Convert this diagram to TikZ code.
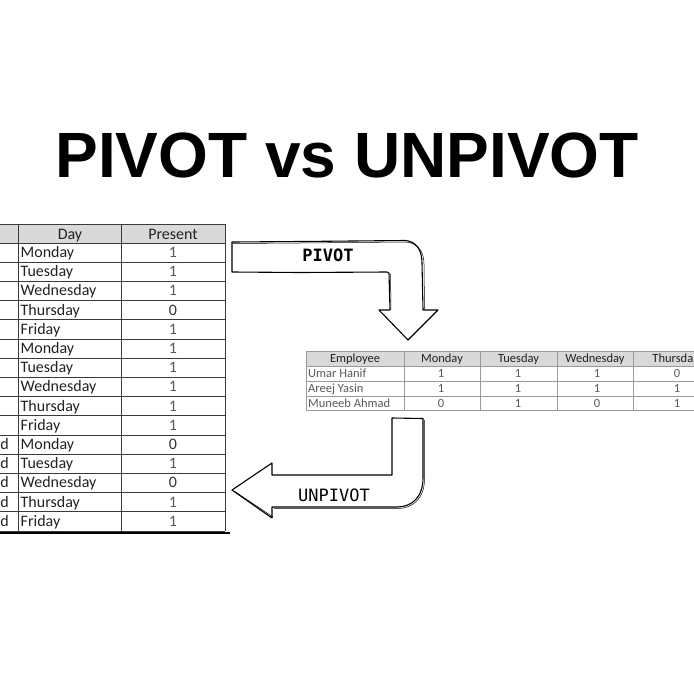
\documentclass[tikz,border=0pt]{standalone}
\usepackage{fontspec}
\setmainfont{Liberation Sans}
\newfontfamily\cellfont{Carlito}
\newfontfamily\arrowfont{DejaVu Sans Mono}
\definecolor{hdrfill}{HTML}{D9D9D9}
\definecolor{gridA}{HTML}{3A3A3A}
\definecolor{gridB}{HTML}{9A9A9A}
\definecolor{txtA}{HTML}{222222}
\definecolor{txtOne}{HTML}{5A5A5A}
\definecolor{txtZero}{HTML}{333333}
\tikzset{
  bigcell/.style={inner sep=0pt, font=\cellfont\fontsize{16}{18}\selectfont, text=txtA},
  smallcell/.style={inner sep=0pt, font=\cellfont\fontsize{12.5}{15}\selectfont, text=txtA},
  gridleft/.style={draw=gridA, line width=0.8pt},
  gridright/.style={draw=gridB, line width=0.6pt},
  sketch/.style={draw=black, line width=1.1pt, line join=round},
  sketchb/.style={draw=black, line width=0.5pt, line join=round},
  arrowlabel/.style={inner sep=0pt, font=\arrowfont\fontsize{17}{19}\selectfont, text=black}
}
\begin{document}
\begin{tikzpicture}[x=1pt,y=-1pt]
\useasboundingbox (0,0) rectangle (694,694);
\clip (0,0) rectangle (694,694);
\fill[white] (0,0) rectangle (694,694);

% Title
\node[anchor=base, inner sep=0pt, font=\bfseries\fontsize{64}{70}\selectfont] (title) at (347,177) {PIVOT vs UNPIVOT};

% ---------- Left (long) table ----------
\fill[hdrfill] (0,224) rectangle (225,243);
\foreach \k in {0,...,15} {
  \draw[gridleft] (0,{243+19.2*\k}) -- (225,{243+19.2*\k});
}
\draw[gridleft] (0,224) -- (225,224);
\foreach \xx in {18,121,225} {
  \draw[gridleft] (\xx,224) -- (\xx,531);
}
\draw[black, line width=2.4pt] (0,533) -- (230,533);

\node[bigcell, anchor=base] (hday) at (70,239) {Day};
\node[bigcell, anchor=base] (hpres) at (173,239) {Present};

\foreach \d [count=\i from 0] in {Monday,Tuesday,Wednesday,Thursday,Friday,Monday,Tuesday,Wednesday,Thursday,Friday,Monday,Tuesday,Wednesday,Thursday,Friday} {
  \node[bigcell, anchor=base west] (day\i) at (20.5,{243+19.2*\i+14.5}) {\d};
}
\foreach \v [count=\i from 0] in {1,1,1,0,1,1,1,1,1,1,0,1,0,1,1} {
  \ifnum\v=1
    \node[bigcell, anchor=base, text=txtOne] (pres\i) at (173,{243+19.2*\i+14.5}) {\v};
  \else
    \node[bigcell, anchor=base, text=txtZero] (pres\i) at (173,{243+19.2*\i+14.5}) {\v};
  \fi
}
\foreach \i in {10,...,14} {
  \node[bigcell, anchor=base east] (nm\i) at (9,{243+19.2*\i+14.5}) {d};
}

% ---------- Right (wide) table ----------
\fill[hdrfill] (306,351) rectangle (694,366);
\foreach \yy in {351,366,381,396,410} {
  \draw[gridright] (306,\yy) -- (694,\yy);
}
\foreach \xx in {306,404,480,557,633} {
  \draw[gridright] (\xx,351) -- (\xx,410);
}
\node[smallcell, anchor=base] (hemp) at (355,362.5) {Employee};
\node[smallcell, anchor=base] (hmon) at (442,362.5) {Monday};
\node[smallcell, anchor=base] (htue) at (518.5,362.5) {Tuesday};
\node[smallcell, anchor=base] (hwed) at (595,362.5) {Wednesday};
\node[smallcell, anchor=base east] (hthu) at (693.5,362.5) {Thursda};

\foreach \nm/\a/\b/\c/\e [count=\r from 0] in {Umar Hanif/1/1/1/0, Areej Yasin/1/1/1/1, Muneeb Ahmad/0/1/0/1} {
  \node[smallcell, anchor=base west, text=txtOne] (emp\r) at (308,{377.5+15*\r}) {\nm};
  \node[smallcell, anchor=base, text=txtOne] (vmon\r) at (441,{377.5+15*\r}) {\a};
  \node[smallcell, anchor=base, text=txtOne] (vtue\r) at (518,{377.5+15*\r}) {\b};
  \node[smallcell, anchor=base, text=txtOne] (vwed\r) at (597,{377.5+15*\r}) {\c};
  \node[smallcell, anchor=base, text=txtOne] (vthu\r) at (677,{377.5+15*\r}) {\e};
}

% ---------- PIVOT arrow ----------
\def\pivotpath{(232,242) -- (300,241.5) -- (405,240.5) .. controls (416,241) and (422,250) .. (422,263) -- (423,310) -- (438,310) -- (408,340) -- (379,310) -- (390,310) -- (389,273) -- (387,272) -- (300,272.5) -- (232,272) -- cycle}
\fill[white] \pivotpath;
\draw[sketch] \pivotpath;
\draw[sketchb] (233,243.5) -- (300,243) -- (406,242) .. controls (418,243) and (424,252) .. (424,264) -- (424.5,309);
\draw[sketchb] (391,309) -- (390.5,274);
\node[arrowlabel, font=\arrowfont\bfseries\fontsize{17}{19}\selectfont] (pivotlbl) at (328,255) {PIVOT};

% ---------- UNPIVOT arrow ----------
\def\unpivotpath{(392,418) -- (423,418.5) -- (423,478) .. controls (423,497) and (412,507) .. (397,507) -- (272,507) -- (272,518) -- (232,490) -- (272,463) -- (272,475) -- (392,475) -- cycle}
\fill[white] \unpivotpath;
\draw[sketch] \unpivotpath;
\draw[sketchb] (424.5,420) -- (424.5,479) .. controls (424.5,498) and (413,508.5) .. (398,508.5) -- (274,508.5);
\draw[sketchb] (273,517) -- (234,491);
\node[arrowlabel] (unpivotlbl) at (334,495) {UNPIVOT};

\end{tikzpicture}
\end{document}
